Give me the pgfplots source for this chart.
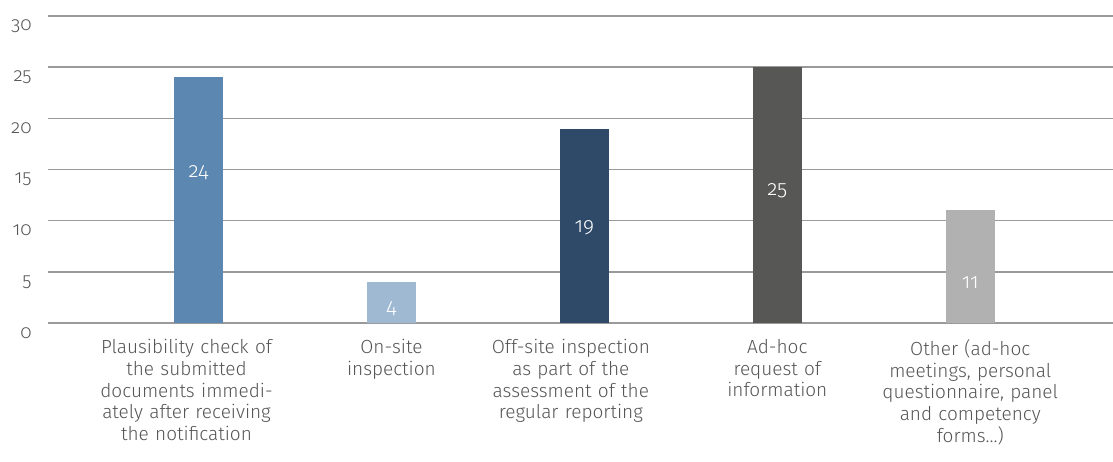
\documentclass[border=0pt]{standalone}
\usepackage{fontspec}
\setmainfont{Fira Sans Light}[Numbers=OldStyle]
\usepackage{pgfplots}
\pgfplotsset{compat=1.18}
\definecolor{txt}{HTML}{555555}
\definecolor{gridc}{HTML}{9A9A9A}
\definecolor{cA}{HTML}{5B87B1}
\definecolor{cB}{HTML}{A0B9D3}
\definecolor{cC}{HTML}{2E4A68}
\definecolor{cD}{HTML}{575756}
\definecolor{cE}{HTML}{B1B1B1}
\begin{document}
\begin{tikzpicture}
\useasboundingbox (-24pt,-69pt) rectangle (532.5pt,161.5pt);
\begin{axis}[
  at={(0,0)}, anchor=south west,
  scale only axis, width=532.5pt, height=153.5pt,
  xmin=-0.78, xmax=4.74, ymin=0, ymax=30,
  ytick={0,5,10,15,20,25,30},
  xtick={-0.062,1,1.93,3,4},
  xticklabels={
    {Plausibility check of\\the submitted\\documents immedi-\\ately after receiving\\the notification},
    {On-site\\inspection},
    {Off-site inspection\\as part of the\\assessment of the\\regular reporting},
    {Ad-hoc\\request of\\information},
    {Other (ad-hoc\\meetings, personal\\questionnaire, panel\\and competency\\forms\ldots)}},
  xticklabel style={align=center, text width=100pt, font=\fontsize{9.5}{10.85}\selectfont, text=txt, anchor=north, inner sep=0pt, yshift=-8pt},
  yticklabel style={font=\fontsize{9.5}{10.8}\selectfont, text=txt, anchor=east, xshift=-8pt, yshift=-5pt, inner sep=0pt},
  /pgf/number format/assume math mode=true,
  axis line style={draw=none},
  major tick length=0pt,
  xmajorgrids=false, ymajorgrids=true,
  y grid style={draw=gridc, line width=0.75pt},
  clip=false,
]
\addplot[ybar, bar width=24.5pt, fill=cA, draw=none] coordinates {(0,24)};
\addplot[ybar, bar width=24.5pt, fill=cB, draw=none] coordinates {(1,4)};
\addplot[ybar, bar width=24.5pt, fill=cC, draw=none] coordinates {(2,19)};
\addplot[ybar, bar width=24.5pt, fill=cD, draw=none] coordinates {(3,25)};
\addplot[ybar, bar width=24.5pt, fill=cE, draw=none] coordinates {(4,11)};
\addplot[only marks, mark=none, nodes near coords, point meta=explicit symbolic,
  every node near coord/.style={anchor=center, text=white, font=\fontsize{10.5}{12}\selectfont}]
  coordinates {(0,14.7) [24] (1,1.4) [4] (2,9.3) [19] (3,12.9) [25] (4,3.9) [11]};
\end{axis}
\end{tikzpicture}
\end{document}
